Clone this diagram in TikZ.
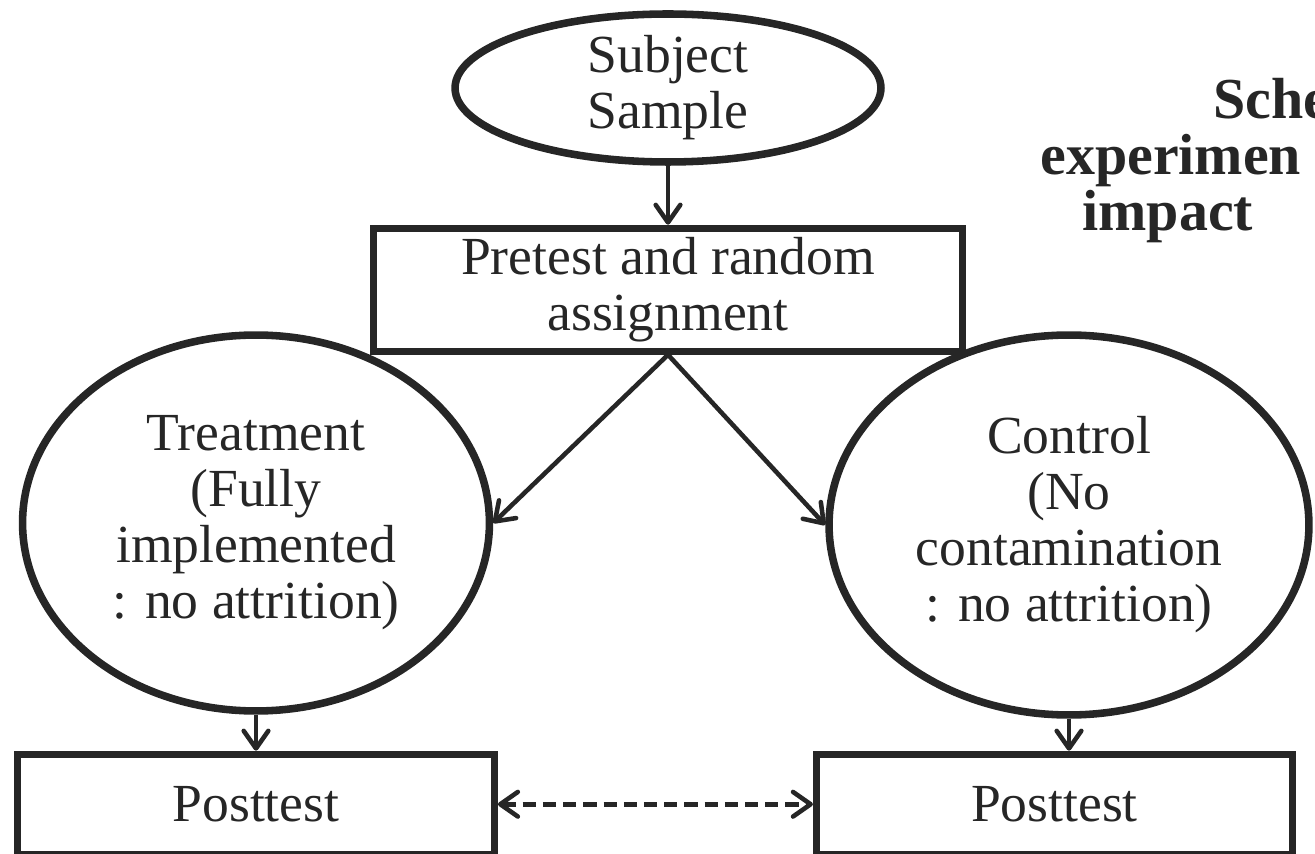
\documentclass[tikz,border=0pt]{standalone}
\usepackage{fontspec}
\setmainfont{Liberation Serif}
\usetikzlibrary{shapes,arrows.meta,positioning}
\definecolor{ink}{HTML}{262626}
\tikzset{
      bubble/.style   = {ellipse, draw=ink, line width=4.3pt, inner sep=0pt, align=center, text=ink},
      stepbox/.style  = {rectangle, draw=ink, line width=4pt, inner sep=0pt, align=center, text=ink},
      flowedge/.style = {ink, line width=2.6pt, -{Straight Barb[round, length=10pt, width=14pt]}},
      linkedge/.style = {ink, line width=2.6pt, dash pattern=on 7.5pt off 4pt,
                         {Straight Barb[round, length=10pt, width=14pt]}-{Straight Barb[round, length=10pt, width=14pt]}},
      heading/.style  = {anchor=base west, inner sep=0pt, text=ink, font=\bfseries\fontsize{33}{33}\selectfont},
    }

\begin{document}
\begin{tikzpicture}[x=0.02cm, y=-0.02cm,
    font=\fontsize{30.5}{31.9}\selectfont
    ]
    \clip (0,0) rectangle (1315,854);

    \node [bubble, minimum width=8.52cm, minimum height=2.88cm] (sample) at (668,88) {Subject\\Sample};
    \node [stepbox, minimum width=11.8cm, minimum height=2.46cm, below=1.18cm of sample] (pretest) {Pretest and random\\assignment};
    \node [bubble, minimum width=9.34cm, minimum height=7.52cm] (treat) at (256,523) {Treatment\\(Fully\\implemented\\: no attrition)};
    \node [bubble, minimum width=9.6cm, minimum height=7.6cm] (ctrl) at (1069,525) {Control\\(No\\contamination\\: no attrition)};
    \node [stepbox, minimum width=9.54cm, minimum height=2cm, below=0.72cm of treat] (postL) {Posttest};
    \node [stepbox, minimum width=9.52cm, minimum height=2cm, right=6.3cm of postL] (postR) {Posttest};

    % title, cut off by the right edge
    \node [heading] (title1) at (1213,119) {Sche};
    \node [heading] (title2) at (1040,175) {experimen};
    \node [heading] (title3) at (1082,231) {impact};

    \path (sample) edge[flowedge] (pretest);
    \path (pretest.south) edge[flowedge] (treat.east);
    \path (pretest.south) edge[flowedge] (ctrl.west);
    \path (treat) edge[flowedge] (postL);
    \path (ctrl.south) edge[flowedge] (ctrl.south |- postR.north);
    \path (postL) edge[linkedge] (postR);
\end{tikzpicture}
\end{document}
